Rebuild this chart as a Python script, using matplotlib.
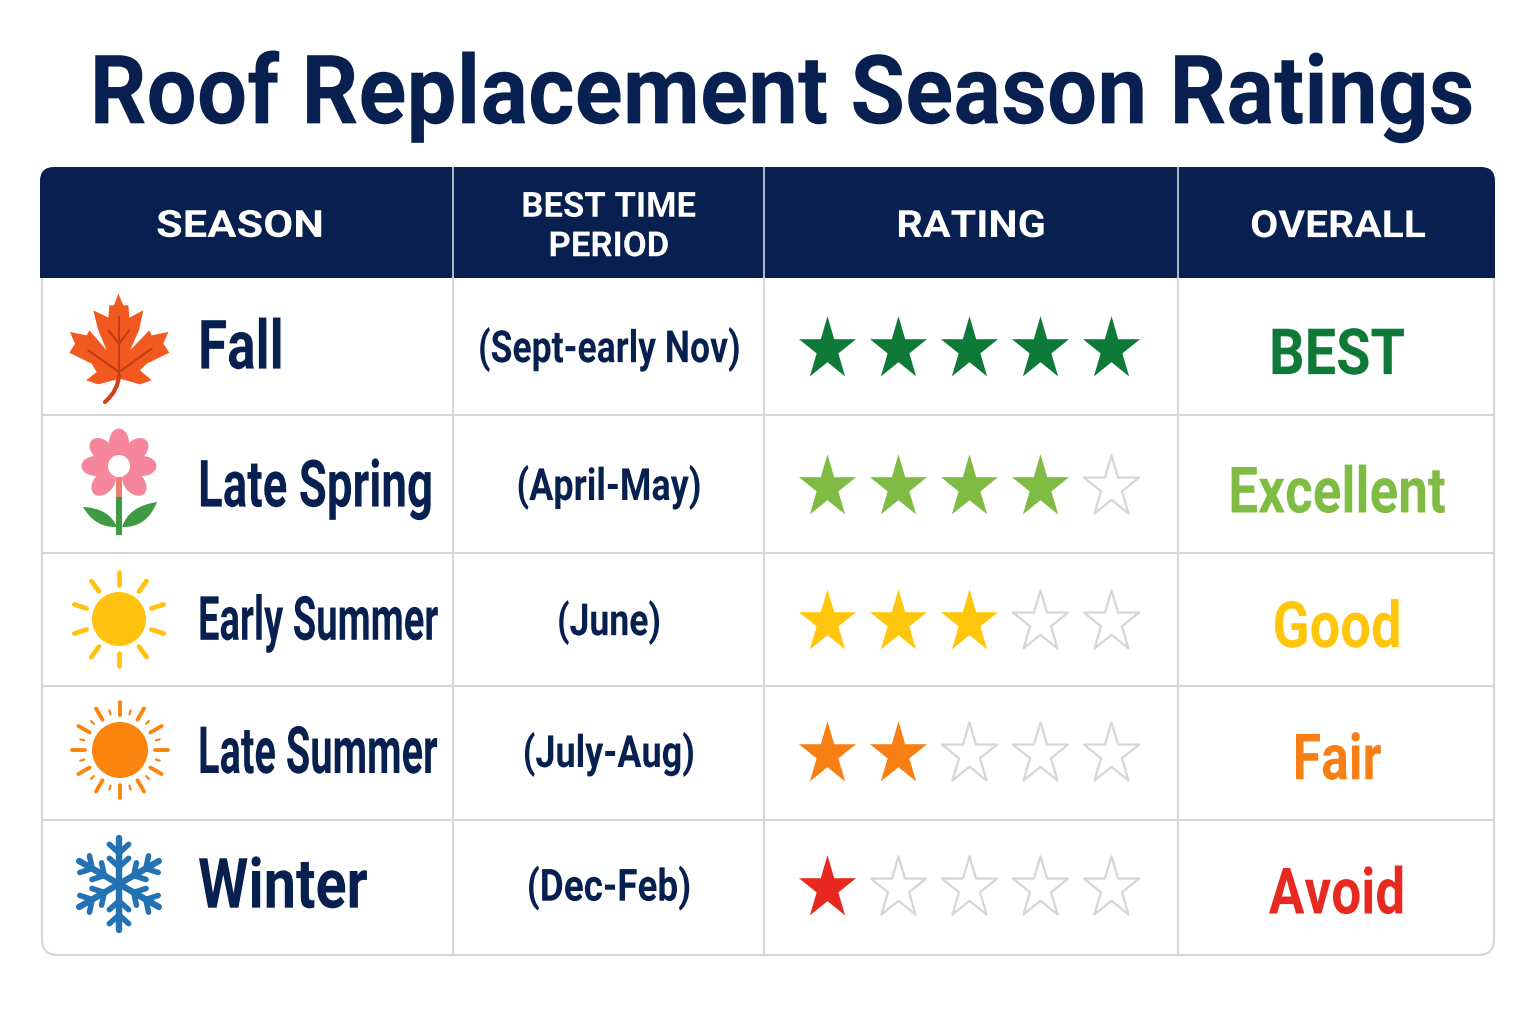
import numpy as np
import matplotlib
matplotlib.use("Agg")
import matplotlib.pyplot as plt
from matplotlib.patches import Circle, Ellipse, FancyBboxPatch, Polygon, Rectangle, PathPatch
from matplotlib.patheffects import AbstractPathEffect
from matplotlib.path import Path
from matplotlib.transforms import Affine2D

title = "Roof Replacement Season Ratings"
headers = ["SEASON", "BEST TIME\nPERIOD", "RATING", "OVERALL"]
seasons = ["Fall", "Late Spring", "Early Summer", "Late Summer", "Winter"]
periods = ["(Sept-early Nov)", "(April-May)", "(June)", "(July-Aug)", "(Dec-Feb)"]
ratings = [5, 4, 3, 2, 1]
overall = ["BEST", "Excellent", "Good", "Fair", "Avoid"]
colors = ["#0f7a38", "#80bc43", "#ffc60b", "#f77f14", "#e8291f"]

navy = "#08204f"
grid = "#d4d6da"
col_x = [453, 764, 1178]
row_y = [415, 553, 686, 820]
row_mid = [347, 485, 620, 752, 886]
head_x = [240, 609, 971, 1338]
head_fx = [1.16, 1.0, 1.105, 1.09]
season_size = [49, 47, 44, 47, 50]
season_fx = [0.78, 0.70, 0.625, 0.61, 0.83]
period_fx = [0.80, 0.81, 0.80, 0.81, 0.83]
overall_fx = [0.875, 0.83, 0.85, 0.81, 0.83]
font = ["Roboto", "DejaVu Sans"]

fig = plt.figure(figsize=(15.36, 10.24), dpi=100)
ax = fig.add_axes([0, 0, 1, 1])
ax.set_xlim(0, 1536)
ax.set_ylim(1024, 0)
ax.axis("off")


# no condensed font here: use a smaller size that has the right width, then stretch it up when drawn
class Stretch(AbstractPathEffect):
    def __init__(self, fy, y0):
        super().__init__()
        self.fy = fy
        self.y0 = y0

    def draw_path(self, renderer, gc, tpath, affine, rgbFace=None):
        a = affine + Affine2D().translate(0, -self.y0).scale(1, self.fy).translate(0, self.y0)
        renderer.draw_path(gc, tpath, a, rgbFace)


def put_text(x, y, s, fx, size, **kw):
    t = ax.text(x, y, s, va="center", fontweight="bold", family=font, fontsize=size * fx, **kw)
    t.set_path_effects([Stretch(1 / fx, 1024 - y)])
    return t


def leaf(cx, cy):
    pts = [(235, 40), (250, 75), (265, 75), (268, 112), (310, 90), (297, 150), (270, 210), (328, 150),
           (335, 165), (385, 155), (370, 190), (388, 217), (320, 250), (300, 270), (335, 300), (300, 312),
           (240, 295), (175, 312), (138, 300), (170, 275), (155, 250), (88, 217), (105, 190), (90, 155),
           (140, 165), (148, 150), (200, 210), (175, 150), (160, 90), (205, 112), (208, 75), (222, 75)]
    conv = lambda p: (cx + (p[0] - 237) / 3, cy + (p[1] - 200) / 3)
    ax.add_patch(Polygon([conv(p) for p in pts], closed=True, fc="#f2591f", ec="none"))
    veins = [[(237, 110), (237, 285)], [(237, 275), (335, 205)], [(237, 275), (145, 210)],
             [(237, 190), (268, 150)], [(237, 190), (205, 150)]]
    for v in veins:
        a, b = conv(v[0]), conv(v[1])
        ax.plot([a[0], b[0]], [a[1], b[1]], color="#c23c17", lw=1.5, solid_capstyle="round")
    stem = Path([conv((237, 285)), conv((235, 330)), conv((195, 365))], [Path.MOVETO, Path.CURVE3, Path.CURVE3])
    ax.add_patch(PathPatch(stem, fc="none", ec="#d2401c", lw=3, capstyle="round"))


def flower(cx, cy):
    # cy is the centre of the petals, nothing at the bottom where the stem sits
    for a in [0, 47, 90, 138, 222, 270, 313]:
        r = np.radians(a)
        ax.add_patch(Ellipse((cx + 23 * np.sin(r), cy - 23 * np.cos(r)), 20, 29, angle=a, fc="#f6869c", ec="none"))
    ax.add_patch(Rectangle((cx - 3, cy + 11), 6, 22, fc="#ee7f73", ec="none"))
    ax.add_patch(Rectangle((cx - 3, cy + 31), 6, 38, fc="#3f9a43", ec="none"))
    ax.add_patch(Circle((cx, cy), 11, fc="white", ec="none"))
    left = Path([(cx - 2, cy + 61), (cx - 10, cy + 42), (cx - 36, cy + 41), (cx - 24, cy + 62), (cx - 2, cy + 61)],
                [Path.MOVETO, Path.CURVE3, Path.CURVE3, Path.CURVE3, Path.CURVE3])
    right = Path([(cx + 3, cy + 61), (cx + 10, cy + 40), (cx + 38, cy + 36), (cx + 28, cy + 62), (cx + 3, cy + 61)],
                 [Path.MOVETO, Path.CURVE3, Path.CURVE3, Path.CURVE3, Path.CURVE3])
    ax.add_patch(PathPatch(left, fc="#3f9a43", ec="none"))
    ax.add_patch(PathPatch(right, fc="#3f9a43", ec="none"))


def sun(cx, cy, col, radius, n, small):
    ax.add_patch(Circle((cx, cy), radius, fc=col, ec="none"))
    for i in range(n):
        r = np.radians(i * 360 / n)
        ax.plot([cx + (radius + 7) * np.sin(r), cx + (radius + 20) * np.sin(r)],
                [cy - (radius + 7) * np.cos(r), cy - (radius + 20) * np.cos(r)],
                color=col, lw=3.4 if not small else 2.8, solid_capstyle="round")
        if small:
            r2 = r + np.radians(180 / n)
            ax.plot([cx + (radius + 9) * np.sin(r2), cx + (radius + 13) * np.sin(r2)],
                    [cy - (radius + 9) * np.cos(r2), cy - (radius + 13) * np.cos(r2)],
                    color=col, lw=1.6, solid_capstyle="round")


def snowflake(cx, cy):
    col = "#2272b4"
    for i in range(6):
        r = np.radians(i * 60)
        ux, uy = np.sin(r), -np.cos(r)
        ax.plot([cx, cx + 46 * ux], [cy, cy + 46 * uy], color=col, lw=4.6, solid_capstyle="round")
        for d, ln in [(17, 13), (31, 13)]:
            for s in (-1, 1):
                r2 = r + s * np.radians(48)
                bx, by = cx + d * ux, cy + d * uy
                ax.plot([bx, bx + ln * np.sin(r2)], [by, by - ln * np.cos(r2)], color=col, lw=4,
                        solid_capstyle="round")


put_text(782, 97, title, 0.93, 69, ha="center", color=navy)

# table frame and header
ax.add_patch(FancyBboxPatch((42, 200), 1452, 755, boxstyle="round,pad=0,rounding_size=16", fc="white", ec=grid, lw=1.6))
ax.add_patch(FancyBboxPatch((40, 167), 1455, 90, boxstyle="round,pad=0,rounding_size=14", fc=navy, ec="none"))
ax.add_patch(Rectangle((40, 200), 1455, 78, fc=navy, ec="none"))
for x in col_x:
    ax.plot([x, x], [167, 278], color="#dfe3ea", lw=1.1)
    ax.plot([x, x], [278, 955], color=grid, lw=1.4)
for y in row_y:
    ax.plot([42, 1494], [y, y], color=grid, lw=1.5)

for x, h, fx in zip(head_x, headers, head_fx):
    put_text(x, 227, h, fx, 27 if "\n" not in h else 25, ha="center", color="white", linespacing=1.25)

# the reference stars are a bit taller than a regular star
star = Path(Path.unit_regular_star(5, 0.381).vertices * [1, 1.11], Path.unit_regular_star(5, 0.381).codes)

for i, s in enumerate(seasons):
    put_text(198, row_mid[i] + 3, s, season_fx[i], season_size[i], ha="left", color=navy)
    put_text(609, row_mid[i] + 2, periods[i], period_fx[i], 32, ha="center", color=navy)
    put_text(1337, row_mid[i] + 10, overall[i], overall_fx[i], 46, ha="center", color=colors[i])
    for j in range(5):
        if j < ratings[i]:
            ax.scatter(827 + j * 71, row_mid[i] + 2, s=2300, marker=star, color=colors[i], linewidths=0, zorder=3)
        else:
            ax.scatter(827 + j * 71, row_mid[i] + 2, s=2150, marker=star, facecolor="white", edgecolor="#d6d6d6",
                       linewidths=1.6, zorder=3)

leaf(119, 347)
flower(119, 466)
sun(119, 619, "#ffc20e", 27, 10, False)
sun(120, 750, "#fb840f", 28, 12, True)
snowflake(119, 884)

fig.savefig("out.png", dpi=100)
